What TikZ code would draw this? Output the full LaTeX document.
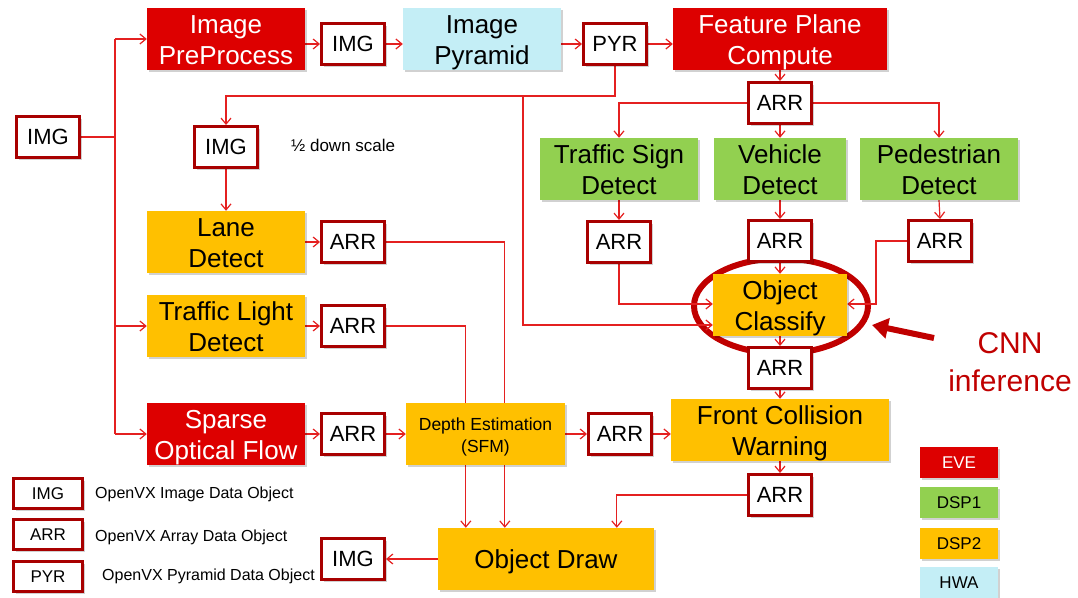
\documentclass[tikz,border=0pt]{standalone}
\usepackage{fontspec}
\setmainfont{Liberation Sans}
\usetikzlibrary{arrows.meta,shapes.geometric,shadows,calc}
\definecolor{evered}{HTML}{DD0000}
\definecolor{boxred}{HTML}{A80000}
\definecolor{linered}{HTML}{E42020}
\definecolor{ringred}{HTML}{C00000}
\definecolor{dspgreen}{HTML}{92D050}
\definecolor{dsporange}{HTML}{FFC000}
\definecolor{hwablue}{HTML}{C4EEF6}
\pgfdeclarelayer{ringlayer}
\pgfdeclarelayer{connlayer}
\pgfsetlayers{ringlayer,connlayer,main}
\tikzset{
  shad/.style={drop shadow={shadow xshift=2pt,shadow yshift=-2pt,opacity=0.18,fill=black}},
  proc/.style={rectangle,inner sep=0pt,align=center,shad,text height=55pt,text depth=5pt,font=\fontsize{26}{31}\selectfont},
  oneline/.style={text height=24pt,text depth=5pt},
  eve/.style={proc,fill=evered,text=white},
  dspa/.style={proc,fill=dspgreen},
  dspb/.style={proc,fill=dsporange},
  hwa/.style={proc,fill=hwablue},
  data/.style={rectangle,inner sep=0pt,draw=boxred,line width=3pt,fill=white,shad,
    minimum width=63pt,minimum height=41pt,font=\fontsize{22}{26}\selectfont},
  legdata/.style={data,minimum width=69pt,minimum height=30pt,font=\fontsize{17}{20}\selectfont},
  legproc/.style={minimum width=78pt,minimum height=31pt,text height=14pt,text depth=2pt,font=\fontsize{17}{20}\selectfont},
  legtext/.style={anchor=west,inner sep=0pt,font=\fontsize{16}{19}\selectfont},
  conn/.style={draw=linered,line width=1.2pt,-{Straight Barb[length=6pt,width=10pt]}},
  plain/.style={draw=linered,line width=1.2pt},
}
\begin{document}
\begin{tikzpicture}[x=1pt,y=-1pt]
\useasboundingbox (0,0) rectangle (1078,597);
% ---- process nodes
\node[eve,minimum width=158pt,minimum height=62pt] (ipp) at (226,39) {Image\\PreProcess};
\node[hwa,minimum width=158pt,minimum height=62pt] (ipyr) at (482,39) {Image\\Pyramid};
\node[eve,minimum width=214pt,minimum height=62pt] (fpc) at (780,39) {Feature Plane\\Compute};
\node[dspb,minimum width=158pt,minimum height=62pt] (lane) at (226,242) {Lane\\Detect};
\node[dspb,minimum width=158pt,minimum height=62pt] (tld) at (226,326) {Traffic Light\\Detect};
\node[eve,minimum width=158pt,minimum height=62pt] (sof) at (226,434) {Sparse\\Optical Flow};
\node[dspb,minimum width=159pt,minimum height=62pt,text height=40pt,text depth=4pt,font=\fontsize{17.5}{22}\selectfont] (de) at (485.5,434) {Depth Estimation\\(SFM)};
\node[dspb,minimum width=218pt,minimum height=62pt] (fcw) at (780,430) {Front Collision\\Warning};
\node[dspb,oneline,minimum width=216pt,minimum height=62pt] (od) at (546,559) {Object Draw};
\node[dspa,minimum width=158pt,minimum height=62pt] (tsd) at (619,169) {Traffic Sign\\Detect};
\node[dspa,minimum width=132pt,minimum height=62pt] (vd) at (780,169) {Vehicle\\Detect};
\node[dspa,minimum width=158pt,minimum height=62pt] (pd) at (939,169) {Pedestrian\\Detect};
\node[dspb,minimum width=134pt,minimum height=62pt] (oc) at (780,305) {Object\\Classify};
% ---- data nodes
\node[data] (imgL) at (48,137) {IMG};
\node[data] (img1) at (353,44) {IMG};
\node[data] (pyr) at (615,44) {PYR};
\node[data] (arr0) at (780,103) {ARR};
\node[data] (imgH) at (226,147) {IMG};
\node[data] (arrL) at (353,242) {ARR};
\node[data] (arrT) at (353,326) {ARR};
\node[data] (arrS) at (353,434) {ARR};
\node[data] (arrD) at (620,434) {ARR};
\node[data] (arrF) at (780,495) {ARR};
\node[data] (imgO) at (353,559) {IMG};
\node[data] (arrTS) at (619,242) {ARR};
\node[data] (arrV) at (780,241) {ARR};
\node[data] (arrP) at (940,241) {ARR};
\node[data] (arrO) at (780,368) {ARR};
% ---- texts
\node[anchor=west,inner sep=0pt,font=\fontsize{17}{20}\selectfont] (half) at (291,145) {½ down scale};
\node[align=center,text=ringred,inner sep=0pt,font=\fontsize{30}{38}\selectfont] (cnn) at (1010,362) {CNN\\inference};
% ---- legend
\node[legdata] (legimg) at (48,493.5) {IMG};
\node[legdata] (legarr) at (48,534.5) {ARR};
\node[legdata] (legpyr) at (48,576.5) {PYR};
\node[legtext] (legimgt) at (95,494) {OpenVX Image Data Object};
\node[legtext] (legarrt) at (95,537) {OpenVX Array Data Object};
\node[legtext] (legpyrt) at (102,576) {OpenVX Pyramid Data Object};
\node[eve,legproc] (leve) at (959,462.5) {EVE};
\node[dspa,legproc] (ldsp1) at (959,502.5) {DSP1};
\node[dspb,legproc] (ldsp2) at (959,543.5) {DSP2};
\node[hwa,legproc] (lhwa) at (959,582.5) {HWA};
% ---- ring around Object Classify
\begin{pgfonlayer}{ringlayer}
\node[ellipse,draw=ringred,line width=6pt,minimum width=174pt,minimum height=95pt,inner sep=0pt] (ring) at (781,306) {};
\end{pgfonlayer}
\coordinate (cnnTail) at (934,338);
\coordinate (cnnTip) at (872,325);
\draw[ringred,line width=6pt,-{Triangle[length=16pt,width=20pt]}] (cnnTail) -- (cnnTip);
% ---- connectors
\begin{pgfonlayer}{connlayer}
\coordinate (trunkTop) at (115,39);
\coordinate (trunkMid) at (115,326);
\coordinate (trunkBot) at (115,434);
\draw[plain] (imgL.east) -- (imgL.east -| trunkTop);
\draw[plain] (trunkTop) -- (trunkBot);
\draw[conn] (trunkTop) -- (ipp.west);
\draw[conn] (trunkMid) -- (tld.west);
\draw[conn] (trunkBot) -- (sof.west);
\draw[conn] (img1.west -| ipp.east) -- (img1.west);
\draw[conn] (img1.east) -- (img1.east -| ipyr.west);
\draw[conn] (pyr.west -| ipyr.east) -- (pyr.west);
\draw[conn] (pyr.east) -- (pyr.east -| fpc.west);
\coordinate (pyrJ) at (226,96);
\coordinate (ocJ) at (523,96);
\draw[conn] (pyr.south) |- (pyrJ) -- (imgH.north);
\draw[conn] (ocJ) |- ($(oc.west)+(0,20)$);
\draw[conn] (imgH.south) -- (lane.north);
\draw[conn] (fpc.south) -- (arr0.north);
\draw[conn] (arr0.west) -| (tsd.north);
\draw[conn] (arr0.east) -| (pd.north);
\draw[conn] (arr0.south) -- (vd.north);
\draw[conn] (tsd.south) -- (arrTS.north);
\draw[conn] (vd.south) -- (arrV.north);
\draw[conn] (pd.south) -- (arrP.north);
\draw[conn] (arrTS.south) |- ($(oc.west)+(0,-1)$);
\draw[conn] (arrV.south) -- (oc.north);
\coordinate (pdJ) at (876,241);
\draw[conn] (arrP.west) -- (pdJ) |- ($(oc.east)+(0,-1)$);
\draw[conn] (oc.south) -- (arrO.north);
\draw[conn] (arrO.south) -- (fcw.north);
\draw[conn] (lane.east) -- (arrL.west);
\draw[conn] (tld.east) -- (arrT.west);
\draw[conn] (sof.east) -- (arrS.west);
\draw[conn] (arrS.east) -- (de.west);
\draw[conn] (de.east) -- (arrD.west);
\draw[conn] (arrD.east) -- (arrD.east -| fcw.west);
\draw[conn] (fcw.south) -- (arrF.north);
\draw[conn] (arrL.east) -| ($(od.north west)+(67,0)$);
\draw[conn] (arrT.east) -| ($(od.north west)+(28,0)$);
\draw[conn] (arrF.west) -| ($(od.north west)+(179,0)$);
\draw[conn] (od.west) -- (imgO.east);
\end{pgfonlayer}
\end{tikzpicture}
\end{document}
